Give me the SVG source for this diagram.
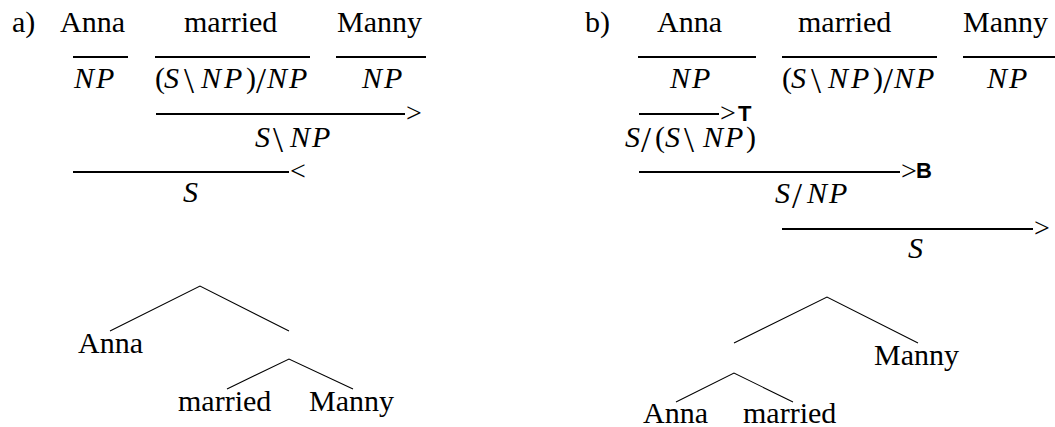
<svg xmlns="http://www.w3.org/2000/svg" width="1055" height="427" viewBox="0 0 1055 427">
  <style>
    .t { font-family: "Liberation Serif", "Times New Roman", serif; font-size: 30px; fill: #000; }
    .cat { font-style: italic; }
    .up { font-style: normal; }
    .bs { font-style: normal; font-size: 36px; }
    .arr { font-family: "Liberation Serif", "Times New Roman", serif; font-size: 28px; fill: #000; }
    .op { font-family: "Liberation Sans", Arial, sans-serif; font-weight: bold; font-size: 22px; fill: #000; }
    .rule { stroke: #000; stroke-width: 2; fill: none; }
    .edge { stroke: #000; stroke-width: 1.1; fill: none; }
  </style>
  <rect width="1055" height="427" fill="#fff"/>

  <!-- (a) derivation: forward/backward application -->
  <g id="deriv-a">
    <text class="t" x="12" y="32">a)</text>
    <text class="t" x="60" y="32">Anna</text>
    <text class="t" x="184" y="32">married</text>
    <text class="t" x="337" y="32">Manny</text>

    <line class="rule" x1="73" y1="57" x2="128" y2="57"/>
    <line class="rule" x1="155" y1="57" x2="310" y2="57"/>
    <line class="rule" x1="336" y1="57" x2="426" y2="57"/>

    <text class="t cat" x="74 96" y="88">NP</text>
    <text class="t cat" x="155 164 184 201 224 246 256 267 289" y="88 88 93 88 88 88 93 88 88"><tspan class="up">(</tspan>S<tspan class="bs">\</tspan>NP<tspan class="up">)</tspan><tspan class="bs">/</tspan>NP</text>
    <text class="t cat" x="362 384" y="88">NP</text>

    <line class="rule" x1="156" y1="114" x2="405" y2="114"/>
    <text class="arr" x="406" y="121.5">&gt;</text>
    <text class="t cat" x="255 273 290 312" y="147 152 147 147">S<tspan class="bs">\</tspan>NP</text>

    <line class="rule" x1="73" y1="172" x2="289" y2="172"/>
    <text class="arr" x="290" y="179.5">&lt;</text>
    <text class="t cat" x="183" y="202">S</text>
  </g>

  <!-- (b) derivation: type-raising and composition -->
  <g id="deriv-b">
    <text class="t" x="585" y="32">b)</text>
    <text class="t" x="657" y="32">Anna</text>
    <text class="t" x="798" y="32">married</text>
    <text class="t" x="963" y="32">Manny</text>

    <line class="rule" x1="638" y1="57" x2="756" y2="57"/>
    <line class="rule" x1="782" y1="57" x2="937" y2="57"/>
    <line class="rule" x1="963" y1="57" x2="1055" y2="57"/>

    <text class="t cat" x="670 692" y="88">NP</text>
    <text class="t cat" x="782 791 811 828 851 873 883 894 916" y="88 88 93 88 88 88 93 88 88"><tspan class="up">(</tspan>S<tspan class="bs">\</tspan>NP<tspan class="up">)</tspan><tspan class="bs">/</tspan>NP</text>
    <text class="t cat" x="987 1009" y="88">NP</text>

    <line class="rule" x1="639" y1="114" x2="719" y2="114"/>
    <text class="arr" x="720" y="121.5">&gt;</text>
    <text class="op" x="738" y="121">T</text>
    <text class="t cat" x="625 641 655 665 684 703 725 746" y="147 152 147 147 152 147 147 147">S<tspan class="bs">/</tspan><tspan class="up">(</tspan>S<tspan class="bs">\</tspan>NP<tspan class="up">)</tspan></text>

    <line class="rule" x1="639" y1="172" x2="900" y2="172"/>
    <text class="arr" x="901" y="179.5">&gt;</text>
    <text class="op" x="916" y="178">B</text>
    <text class="t cat" x="775 792 807 829" y="203 208 203 203">S<tspan class="bs">/</tspan>NP</text>

    <line class="rule" x1="782" y1="229" x2="1033" y2="229"/>
    <text class="arr" x="1034" y="236.5">&gt;</text>
    <text class="t cat" x="908" y="258">S</text>
  </g>

  <!-- tree (a): Anna [married Manny] -->
  <g id="tree-a-anna"><text class="t" x="78" y="353">Anna</text></g>
  <g id="tree-a-married"><text class="t" x="178" y="411">married</text></g>
  <g id="tree-a-manny"><text class="t" x="309" y="411">Manny</text></g>

  <!-- tree (b): [Anna married] Manny -->
  <g id="tree-b-manny"><text class="t" x="874" y="365">Manny</text></g>
  <g id="tree-b-anna"><text class="t" x="643" y="423">Anna</text></g>
  <g id="tree-b-married"><text class="t" x="743" y="423">married</text></g>

  <g id="connectors">
    <polyline class="edge" points="110,331 200,286 289,331"/>
    <polyline class="edge" points="227,389 289,359 353,389"/>
    <polyline class="edge" points="734,343 827,297 918,343"/>
    <polyline class="edge" points="676,402 734,373 793,402"/>
  </g>
</svg>
